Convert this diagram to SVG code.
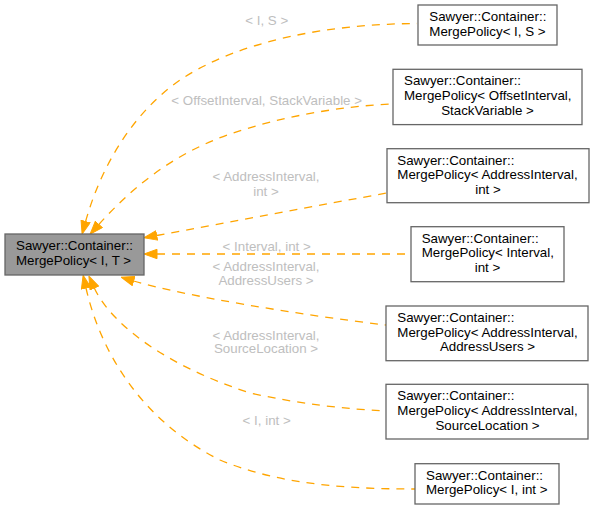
<svg xmlns="http://www.w3.org/2000/svg" width="593" height="509" viewBox="0 0 593 509">
<style>
text{font-family:"Liberation Sans",Arial,sans-serif;font-size:13.33px}
.n{fill:#000}
.l{fill:#bebebe;text-anchor:middle}
.c{text-anchor:middle}
.box{fill:#fff;stroke:#666;stroke-width:1.3}
.main{fill:#999;stroke:#666;stroke-width:1.3}
.e{fill:none;stroke:#ffa500;stroke-width:1.3;stroke-dasharray:8,7;marker-start:url(#ah)}
</style>
<defs>
<marker id="ah" markerUnits="userSpaceOnUse" markerWidth="14" markerHeight="11" viewBox="-0.5 -0.5 14 11" refX="0" refY="4.7" orient="auto-start-reverse">
<path d="M0,0 L13,4.7 L0,9.4 z" fill="#ffa500" stroke="#ffa500" stroke-width="1"/>
</marker>
</defs>
<rect width="593" height="509" fill="#fff"/>
<g id="edges">
<path class="e" d="M85.6,221.5 C100,170 130,115 180,80 C240,40 330,24 417,23.5"/>
<path class="e" d="M98.8,224.5 C130,190 170,155 230,134 C280,117 340,106 393,104"/>
<path class="e" d="M156.7,235.5 C230,222 320,205 387,193"/>
<path class="e" d="M157,254 L411,254"/>
<path class="e" d="M133.6,281 C180,295 300,315 386,325"/>
<path class="e" d="M94.3,288 C108,318 155,362 250,393 C300,404 345,409 386,411"/>
<path class="e" d="M86,288 C100,350 140,420 220,460 C280,485 350,489 415,489"/>
<text class="l" x="266.7" y="24.5">&lt; I, S &gt;</text>
<text class="l" x="266.7" y="104.5">&lt; OffsetInterval, StackVariable &gt;</text>
<text class="l" x="266" y="181">&lt; AddressInterval,</text>
<text class="l" x="266" y="196">int &gt;</text>
<text class="l" x="266.7" y="251">&lt; Interval, int &gt;</text>
<text class="l" x="266" y="271">&lt; AddressInterval,</text>
<text class="l" x="266" y="284.5">AddressUsers &gt;</text>
<text class="l" x="266" y="339.5">&lt; AddressInterval,</text>
<text class="l" x="266" y="353">SourceLocation &gt;</text>
<text class="l" x="266.7" y="424.5">&lt; I, int &gt;</text>
</g>
<g id="node0">
<rect class="main" x="5" y="234" width="139" height="41"/>
<text class="n" x="16" y="250">Sawyer::Container::</text>
<text class="n" x="16" y="264.7">MergePolicy&lt; I, T &gt;</text>
</g>
<g id="node1">
<rect class="box" x="418" y="5" width="139" height="40"/>
<text class="n" x="429.3" y="21">Sawyer::Container::</text>
<text class="n" x="429.3" y="35.7">MergePolicy&lt; I, S &gt;</text>
</g>
<g id="node2">
<rect class="box" x="393" y="69.3" width="189" height="55.3"/>
<text class="n" x="404" y="85.3">Sawyer::Container::</text>
<text class="n" x="404" y="100">MergePolicy&lt; OffsetInterval,</text>
<text class="n c" x="487.5" y="114.7">StackVariable &gt;</text>
</g>
<g id="node3">
<rect class="box" x="387" y="148.7" width="202" height="54"/>
<text class="n" x="397.3" y="164.7">Sawyer::Container::</text>
<text class="n" x="397.3" y="179.3">MergePolicy&lt; AddressInterval,</text>
<text class="n c" x="488" y="194">int &gt;</text>
</g>
<g id="node4">
<rect class="box" x="411" y="226.7" width="153" height="55"/>
<text class="n" x="421.7" y="242.7">Sawyer::Container::</text>
<text class="n" x="421.7" y="257.3">MergePolicy&lt; Interval,</text>
<text class="n c" x="487.5" y="272">int &gt;</text>
</g>
<g id="node5">
<rect class="box" x="386" y="306" width="202" height="54.7"/>
<text class="n" x="397.3" y="322">Sawyer::Container::</text>
<text class="n" x="397.3" y="336.7">MergePolicy&lt; AddressInterval,</text>
<text class="n c" x="487.5" y="351.3">AddressUsers &gt;</text>
</g>
<g id="node6">
<rect class="box" x="386" y="384.3" width="202" height="54.7"/>
<text class="n" x="397.3" y="400.3">Sawyer::Container::</text>
<text class="n" x="397.3" y="415">MergePolicy&lt; AddressInterval,</text>
<text class="n c" x="487.5" y="429.7">SourceLocation &gt;</text>
</g>
<g id="node7">
<rect class="box" x="415" y="463.7" width="144" height="40.3"/>
<text class="n" x="426" y="479.7">Sawyer::Container::</text>
<text class="n" x="426" y="494.3">MergePolicy&lt; I, int &gt;</text>
</g>
</svg>
